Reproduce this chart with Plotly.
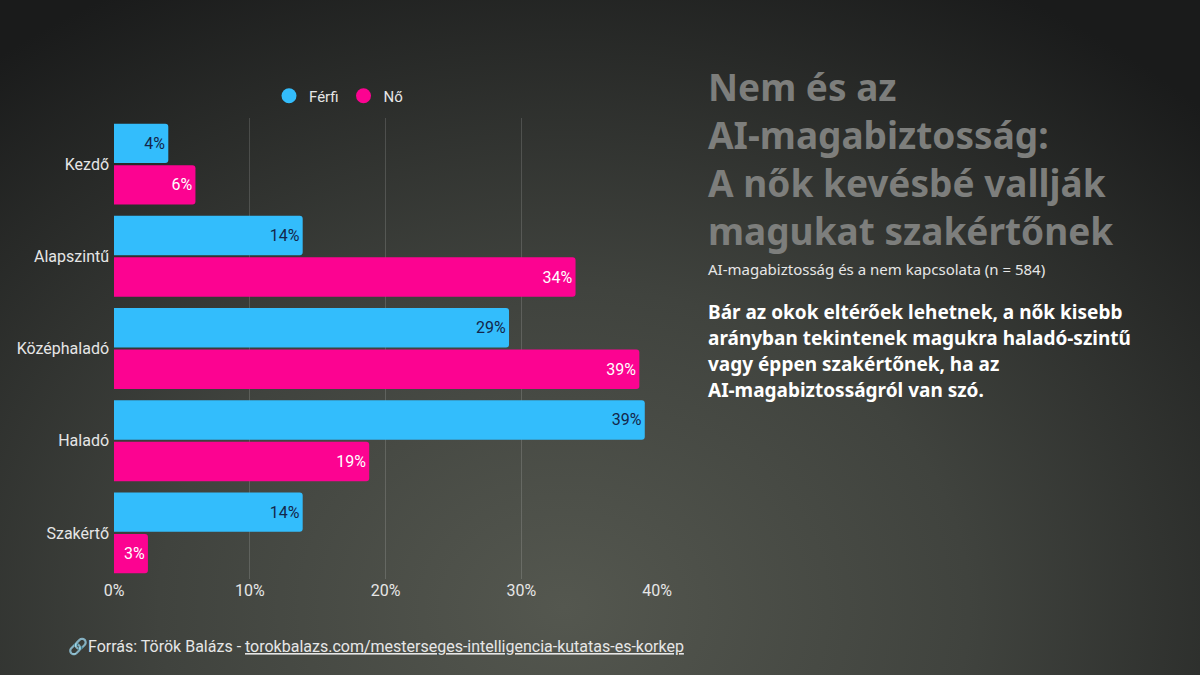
import base64

import plotly.graph_objects as go

# data
levels = ["Kezdő", "Alapszintű", "Középhaladó", "Haladó", "Szakértő"]
ferfi = [4.0, 13.9, 29.1, 39.1, 13.9]
no = [6.0, 34.0, 38.7, 18.8, 2.5]
ferfi_labels = ["4%", "14%", "29%", "39%", "14%"]
no_labels = ["6%", "34%", "39%", "19%", "3%"]
x_ticks = [0, 10, 20, 30, 40]
x_tick_labels = ["0%", "10%", "20%", "30%", "40%"]

title_lines = [
    "Nem és az",
    "AI-magabiztosság:",
    "A nők kevésbé vallják",
    "magukat szakértőnek",
]
subtitle = "AI-magabiztosság és a nem kapcsolata (n = 584)"
body_lines = [
    "Bár az okok eltérőek lehetnek, a nők kisebb",
    "arányban tekintenek magukra haladó-szintű",
    "vagy éppen szakértőnek, ha az",
    "AI-magabiztosságról van szó.",
]

W, H = 1200, 675
M_L, M_R, M_T, M_B = 114, 543, 118, 96
PW, PH = W - M_L - M_R, H - M_T - M_B

BLUE = "#33bdfc"
PINK = "#fc0391"
CHART_FONT = "Roboto, sans-serif"
TEXT_FONT = "Noto Sans, Open Sans, sans-serif"


def px_x(px):
    return (px - M_L) / PW


def px_y(px):
    return 1 + (M_T - px) / PH


# radial gradient background as an svg image
svg = f"""<svg xmlns="http://www.w3.org/2000/svg" width="{W}" height="{H}">
<defs><radialGradient id="g" cx="0.47" cy="0.9" r="0.75" gradientTransform="translate(0.47 0.9) scale(1 1.4) translate(-0.47 -0.9)">
<stop offset="0" stop-color="#54574f"/>
<stop offset="0.45" stop-color="#40433e"/>
<stop offset="1" stop-color="#1a1b1b"/>
</radialGradient></defs>
<rect width="{W}" height="{H}" fill="url(#g)"/></svg>"""
bg_src = "data:image/svg+xml;base64," + base64.b64encode(svg.encode()).decode()

fig = go.Figure()
fig.add_trace(
    go.Bar(
        y=levels, x=ferfi, orientation="h", name="Férfi",
        marker=dict(color=BLUE, line=dict(width=0)),
        text=ferfi_labels, textposition="inside", insidetextanchor="end",
        textfont=dict(color="#13264a", size=16, family=CHART_FONT),
        showlegend=False,
    )
)
fig.add_trace(
    go.Bar(
        y=levels, x=no, orientation="h", name="Nő",
        marker=dict(color=PINK, line=dict(width=0)),
        text=no_labels, textposition="inside", insidetextanchor="end",
        textfont=dict(color="#ffffff", size=16, family=CHART_FONT),
        showlegend=False,
    )
)
# circle markers for the legend
for name, color in [("Férfi", BLUE), ("Nő", PINK)]:
    fig.add_trace(
        go.Scatter(
            x=[None], y=[None], mode="markers", name=name,
            marker=dict(color=color, size=15, symbol="circle"),
        )
    )

annotations = [dict(
    text="<b>" + "<br>".join(title_lines) + "</b>", xref="paper", yref="paper",
    x=px_x(706), y=px_y(158), align="left",
    xanchor="left", yanchor="middle", showarrow=False,
    font=dict(family=TEXT_FONT, size=37, color="#7d7e7c"),
)]
annotations.append(dict(
    text=subtitle, xref="paper", yref="paper",
    x=px_x(706), y=px_y(269),
    xanchor="left", yanchor="middle", showarrow=False,
    font=dict(family=TEXT_FONT, size=15, color="#e6e6e6"),
))
for i, line in enumerate(body_lines):
    annotations.append(dict(
        text=f"<b>{line}</b>", xref="paper", yref="paper",
        x=px_x(706), y=px_y(312 + 26 * i),
        xanchor="left", yanchor="middle", showarrow=False,
        font=dict(family=TEXT_FONT, size=19, color="#ffffff"),
    ))
annotations.append(dict(
    text="🔗Forrás: Török Balázs - <u>torokbalazs.com/mesterseges-intelligencia-kutatas-es-korkep</u>",
    xref="paper", yref="paper",
    x=px_x(66), y=px_y(646),
    xanchor="left", yanchor="middle", showarrow=False,
    font=dict(family=CHART_FONT, size=16, color="#e6e6e6"),
))

fig.update_layout(
    width=W, height=H,
    margin=dict(l=M_L, r=M_R, t=M_T, b=M_B),
    paper_bgcolor="#2e302e",
    plot_bgcolor="rgba(0,0,0,0)",
    barmode="group",
    bargap=0.1,
    bargroupgap=0.05,
    barcornerradius=3,
    font=dict(family=CHART_FONT, color="#e6e6e6", size=16),
    xaxis=dict(
        range=[0, 40], tickvals=x_ticks, ticktext=x_tick_labels,
        showgrid=True, gridcolor="rgba(255,255,255,0.15)", gridwidth=1,
        zeroline=False, showline=False, ticks="", ticklen=0,
        tickfont=dict(size=16, color="#e6e6e6"),
    ),
    yaxis=dict(
        autorange="reversed", showgrid=False, zeroline=False, showline=False,
        ticks="", ticksuffix=" ", tickfont=dict(size=16, color="#e6e6e6"),
    ),
    legend=dict(
        orientation="h", x=px_x(269), y=px_y(96),
        xanchor="left", yanchor="middle",
        font=dict(size=15, color="#e6e6e6"),
        itemwidth=30, bgcolor="rgba(0,0,0,0)",
    ),
    images=[dict(
        source=bg_src, xref="paper", yref="paper",
        x=-M_L / PW, y=1 + M_T / PH, sizex=W / PW, sizey=H / PH,
        xanchor="left", yanchor="top", sizing="stretch", layer="below",
    )],
    annotations=annotations,
)

fig.write_html(
    "out.html",
    config={"displayModeBar": False},
    post_script="document.body.style.margin='0';document.body.style.overflow='hidden';",
)
